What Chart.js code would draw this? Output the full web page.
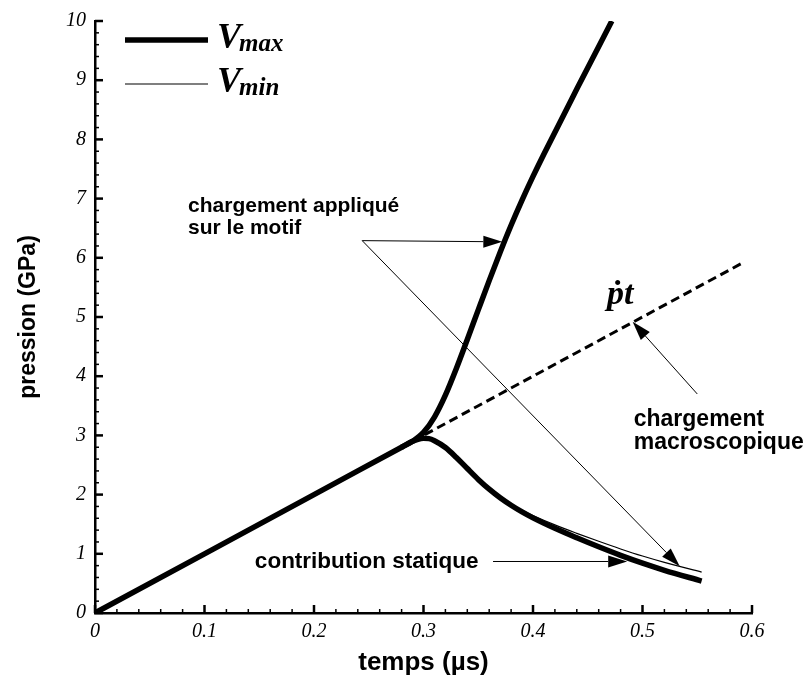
<!DOCTYPE html>
<html>
<head>
<meta charset="utf-8">
<script src="https://cdn.jsdelivr.net/npm/chart.js@4.4.1/dist/chart.umd.min.js"></script>
<style>
  html, body { margin: 0; padding: 0; background: #fff; }
  #wrap { width: 810px; height: 682px; position: relative; }
</style>
</head>
<body>
<div id="wrap"><canvas id="chart"></canvas></div>
<script>
// temps (µs) -> pression (GPa)
// Vmax : chargement appliqué sur le motif (thick, rising branch)
const vmaxT = [0, 0.1, 0.2, 0.28, 0.29, 0.30, 0.31, 0.32, 0.33, 0.34, 0.35, 0.36, 0.37, 0.38, 0.39, 0.40, 0.41, 0.44, 0.472];
const vmaxP = [0, 1, 2, 2.8, 2.9, 3.05, 3.31, 3.68, 4.13, 4.62, 5.12, 5.615, 6.095, 6.55, 6.975, 7.375, 7.755, 8.85, 10];

// contribution statique (thick, falling branch)
const staticT = [0.28, 0.29, 0.295, 0.30, 0.305, 0.31, 0.32, 0.33, 0.34, 0.35, 0.36, 0.37, 0.38, 0.39, 0.40, 0.42, 0.44, 0.46, 0.48, 0.50, 0.52, 0.554];
const staticP = [2.8, 2.9, 2.935, 2.95, 2.945, 2.91, 2.795, 2.627, 2.44, 2.257, 2.092, 1.947, 1.82, 1.707, 1.607, 1.43, 1.27, 1.118, 0.974, 0.842, 0.722, 0.54];

// Vmin (thin)
const vminT = [0, 0.1, 0.2, 0.28, 0.29, 0.295, 0.30, 0.305, 0.31, 0.32, 0.33, 0.34, 0.35, 0.36, 0.37, 0.38, 0.39, 0.40, 0.42, 0.44, 0.46, 0.48, 0.50, 0.52, 0.554];
const vminP = [0, 1, 2, 2.8, 2.9, 2.935, 2.95, 2.945, 2.91, 2.795, 2.627, 2.44, 2.257, 2.097, 1.959, 1.84, 1.737, 1.647, 1.488, 1.346, 1.211, 1.082, 0.962, 0.855, 0.69];

// chargement macroscopique  p = ṗ t
const macroT = [0.29, 0.592];
const macroP = [2.9, 5.92];

const xTickVals = [0, 0.1, 0.2, 0.3, 0.4, 0.5, 0.6];
const yTickVals = [0, 1, 2, 3, 4, 5, 6, 7, 8, 9, 10];

function toPoints(ts, ps) {
  return ts.map((t, i) => ({ x: t, y: ps[i] }));
}

function drawArrow(ctx, x0, y0, x1, y1) {
  const a = Math.atan2(y1 - y0, x1 - x0);
  const len = 19, half = 6;
  const bx = x1 - Math.cos(a) * len, by = y1 - Math.sin(a) * len;
  ctx.beginPath();
  ctx.moveTo(x0, y0);
  ctx.lineTo(bx, by);
  ctx.stroke();
  ctx.beginPath();
  ctx.moveTo(x1, y1);
  ctx.lineTo(bx + Math.sin(a) * half, by - Math.cos(a) * half);
  ctx.lineTo(bx - Math.sin(a) * half, by + Math.cos(a) * half);
  ctx.closePath();
  ctx.fill();
}

// inward major / minor ticks like the original plot
const inwardTicks = {
  id: 'inwardTicks',
  afterDraw(chart) {
    const { ctx, scales: { x, y } } = chart;
    ctx.save();
    ctx.strokeStyle = '#000';
    const y0 = y.getPixelForValue(0);
    const x0 = x.getPixelForValue(0);
    for (let i = 0; i < xTickVals.length; i++) {
      const v = xTickVals[i];
      const p = x.getPixelForValue(v);
      ctx.lineWidth = 2.5;
      ctx.beginPath(); ctx.moveTo(p, y0); ctx.lineTo(p, y0 - 8); ctx.stroke();
      if (i < xTickVals.length - 1) {
        const step = (xTickVals[i + 1] - v) / 5;
        ctx.lineWidth = 1.5;
        for (let k = 1; k < 5; k++) {
          const q = x.getPixelForValue(v + k * step);
          ctx.beginPath(); ctx.moveTo(q, y0); ctx.lineTo(q, y0 - 4); ctx.stroke();
        }
      }
    }
    for (let i = 0; i < yTickVals.length; i++) {
      const v = yTickVals[i];
      const p = y.getPixelForValue(v);
      ctx.lineWidth = 2.5;
      ctx.beginPath(); ctx.moveTo(x0, p); ctx.lineTo(x0 + 8, p); ctx.stroke();
      if (i < yTickVals.length - 1) {
        const step = (yTickVals[i + 1] - v) / 5;
        ctx.lineWidth = 1.5;
        for (let k = 1; k < 5; k++) {
          const q = y.getPixelForValue(v + k * step);
          ctx.beginPath(); ctx.moveTo(x0, q); ctx.lineTo(x0 + 4, q); ctx.stroke();
        }
      }
    }
    ctx.restore();
  }
};

// text labels + arrows, anchored in data units
const annotations = {
  id: 'annotations',
  afterDraw(chart) {
    const { ctx, scales: { x, y }, chartArea } = chart;
    const px = t => x.getPixelForValue(t);
    const py = p => y.getPixelForValue(p);
    ctx.save();
    ctx.fillStyle = '#000';
    ctx.strokeStyle = '#000';

    // legend
    const lx = chartArea.left + 30;
    ctx.lineWidth = 5.5;
    ctx.beginPath(); ctx.moveTo(lx, chartArea.top + 19); ctx.lineTo(lx + 83, chartArea.top + 19); ctx.stroke();
    ctx.lineWidth = 1.2;
    ctx.beginPath(); ctx.moveTo(lx, chartArea.top + 63); ctx.lineTo(lx + 83, chartArea.top + 63); ctx.stroke();
    ctx.textBaseline = 'alphabetic';
    ctx.textAlign = 'left';
    [['max', chartArea.top + 27], ['min', chartArea.top + 71]].forEach(([sub, base]) => {
      ctx.font = 'bold italic 36px "Liberation Serif"';
      ctx.fillText('V', lx + 92, base);
      const w = ctx.measureText('V').width;
      ctx.font = 'bold italic 25px "Liberation Serif"';
      ctx.fillText(sub, lx + 90 + w, base + 3);
    });

    ctx.textBaseline = 'middle';
    ctx.lineWidth = 1;

    // chargement appliqué sur le motif
    ctx.font = 'bold 21px "Liberation Sans"';
    ctx.fillText('chargement appliqué', px(0.085), py(6.87));
    ctx.fillText('sur le motif', px(0.085), py(6.5));
    drawArrow(ctx, px(0.244), py(6.29), px(0.372), py(6.27));
    drawArrow(ctx, px(0.244), py(6.29), px(0.534), py(0.79));

    // contribution statique
    ctx.font = 'bold 22.5px "Liberation Sans"';
    ctx.fillText('contribution statique', px(0.146), py(0.87));
    drawArrow(ctx, px(0.3635), py(0.87), px(0.486), py(0.87));

    // chargement macroscopique
    ctx.font = 'bold 23px "Liberation Sans"';
    ctx.fillText('chargement', px(0.492), py(3.26));
    ctx.fillText('macroscopique', px(0.492), py(2.88));
    drawArrow(ctx, px(0.55), py(3.70), px(0.491), py(4.92));

    ctx.font = 'bold italic 34px "Liberation Serif", "DejaVu Serif"';
    ctx.textBaseline = 'alphabetic';
    ctx.fillText('ṗt', px(0.4676), py(5.22));
    ctx.restore();
  }
};

const tickFont = { family: 'Liberation Serif', style: 'italic', size: 20 };

new Chart(document.getElementById('chart'), {
  type: 'scatter',
  data: {
    datasets: [
      {
        label: 'Vmin',
        data: toPoints(vminT, vminP),
        borderColor: '#000',
        borderWidth: 1.2,
      },
      {
        label: 'contribution statique',
        data: toPoints(staticT, staticP),
        borderColor: '#000',
        borderWidth: 5.5,
      },
      {
        label: 'Vmax',
        data: toPoints(vmaxT, vmaxP),
        borderColor: '#000',
        borderWidth: 5.5,
      },
      {
        label: 'chargement macroscopique',
        data: toPoints(macroT, macroP),
        borderColor: '#000',
        borderWidth: 3,
        borderDash: [9, 5],
      },
    ].map(d => ({ ...d, showLine: true, pointRadius: 0, cubicInterpolationMode: 'monotone', fill: false })),
  },
  options: {
    responsive: true,
    maintainAspectRatio: false,
    animation: false,
    devicePixelRatio: 1,
    layout: { padding: { top: 16, right: 58, bottom: 0, left: 0 } },
    plugins: { legend: { display: false }, tooltip: { enabled: false } },
    scales: {
      x: {
        type: 'linear',
        min: 0,
        max: 0.6,
        afterBuildTicks: s => { s.ticks = xTickVals.map(v => ({ value: v })); },
        afterFit: s => { s.height = 69; },
        grid: { display: false, drawTicks: false },
        border: { display: true, color: '#000', width: 2.5 },
        ticks: {
          color: '#000',
          font: tickFont,
          padding: 7,
          maxRotation: 0,
          callback: v => String(Number(v.toFixed(1))),
        },
        title: {
          display: true,
          text: 'temps (µs)',
          color: '#000',
          font: { family: 'Liberation Sans', weight: 'bold', size: 26 },
          padding: { bottom: 4 },
        },
      },
      y: {
        type: 'linear',
        min: 0,
        max: 10,
        afterBuildTicks: s => { s.ticks = yTickVals.map(v => ({ value: v })); },
        afterFit: s => { s.width = 95; },
        grid: { display: false, drawTicks: false },
        border: { display: true, color: '#000', width: 2.5 },
        ticks: { color: '#000', font: tickFont, padding: 9 },
        title: {
          display: true,
          text: 'pression (GPa)',
          color: '#000',
          font: { family: 'Liberation Sans', weight: 'bold', size: 23 },
          padding: { top: 15 },
        },
      },
    },
  },
  plugins: [inwardTicks, annotations],
});
</script>
</body>
</html>
